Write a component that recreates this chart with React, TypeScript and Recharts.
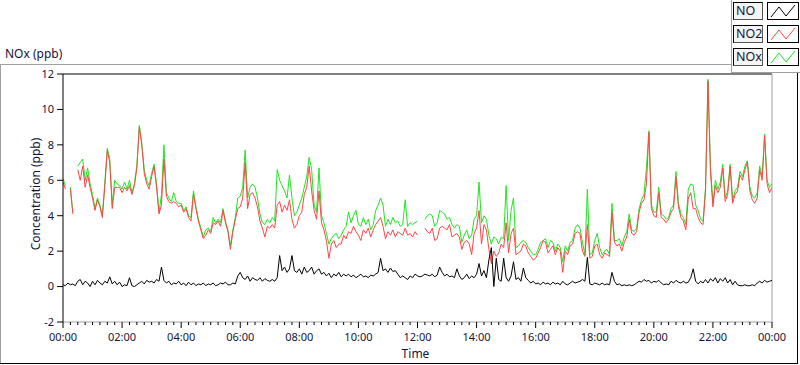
import React from 'react';
import { LineChart, Line, XAxis, YAxis, ReferenceLine, Legend } from 'recharts';

// 5-minute samples from 00:00 to 24:00 (289 points)
const STEP_MIN = 5;
const X_TICKS = [0, 120, 240, 360, 480, 600, 720, 840, 960, 1080, 1200, 1320, 1440];
const X_MINOR = Array.from({ length: 97 }, (_, k) => k * 15);
const Y_TICKS = [-2, 0, 2, 4, 6, 8, 10, 12];
const SERIES_NAMES = ['NO', 'NO2', 'NOx'];

const NO2: (number | null)[] = [
  5.9,5.5,null,5.5,4.1,null,6.6,6.0,6.8,5.6,
  6.3,5.6,5.0,4.3,4.9,4.5,3.9,5.7,7.7,7.0,
  4.4,5.6,5.6,5.6,5.3,5.6,5.4,5.7,5.2,5.7,
  6.7,9.0,8.0,6.4,5.8,5.5,6.2,6.8,5.6,4.1,
  4.6,7.2,5.1,4.8,4.7,4.8,4.7,4.5,4.6,4.2,
  4.4,3.9,3.7,5.2,4.4,3.7,3.2,2.7,2.9,3.2,
  3.0,3.6,3.5,3.7,3.4,4.3,3.6,3.1,2.1,3.1,
  3.8,4.4,4.5,5.0,7.0,4.4,5.2,5.3,5.0,4.5,
  3.7,3.3,2.8,3.4,3.3,3.5,3.3,4.6,4.8,4.2,
  4.6,4.3,4.9,3.8,3.3,3.5,4.0,4.2,5.2,5.6,
  6.8,5.4,4.3,3.8,5.4,3.6,3.2,2.6,1.6,2.4,
  2.6,2.2,2.4,2.4,2.9,2.7,3.1,3.0,3.4,3.1,
  2.9,2.6,3.2,3.0,3.3,2.8,3.2,3.5,3.7,3.9,
  3.4,2.7,3.1,2.9,3.2,2.8,3.1,3.0,2.9,3.3,
  2.9,3.0,2.8,3.1,2.9,null,null,3.3,3.1,3.0,
  3.3,2.6,2.7,3.3,3.4,3.3,3.2,3.5,2.8,2.9,
  3.0,2.8,2.1,2.5,2.6,2.4,1.8,3.0,3.3,4.3,
  2.4,3.5,3.2,2.1,1.3,2.0,1.7,1.9,2.4,2.2,
  3.6,1.9,3.0,3.3,1.8,1.9,2.0,2.4,2.3,1.9,
  1.7,1.5,1.6,1.9,2.2,2.6,2.5,1.9,2.1,2.3,
  1.8,2.2,2.0,0.8,2.0,1.8,2.3,2.4,3.0,3.1,
  3.0,2.0,1.7,3.5,1.6,1.7,2.3,2.4,1.8,1.6,
  1.9,1.8,1.7,4.2,2.5,2.3,2.4,2.0,2.5,2.8,
  3.8,3.0,2.9,3.1,4.2,4.7,4.9,5.8,8.7,4.4,
  4.0,3.9,5.3,3.9,3.8,3.6,3.8,4.2,4.4,6.2,
  4.5,3.9,3.7,3.2,5.0,5.3,4.4,4.4,3.9,3.6,
  3.5,5.4,11.6,6.5,4.5,5.7,5.3,5.6,6.7,4.8,
  5.2,6.8,4.7,5.2,5.4,6.3,6.0,6.6,7.0,5.4,
  4.9,4.7,5.0,6.6,6.0,8.5,5.8,5.3,5.6,
];

const NOX: (number | null)[] = [
  6.1,5.7,null,5.6,4.2,null,6.8,7.0,7.2,6.0,
  6.7,5.8,5.2,4.4,5.0,4.6,4.0,5.9,7.8,7.2,
  4.6,6.0,5.8,5.7,5.5,5.9,5.5,6.0,5.3,5.8,
  6.8,9.1,8.1,6.6,6.0,5.7,6.4,6.9,5.8,4.2,
  5.2,8.0,5.3,5.0,4.8,5.3,4.8,4.7,4.7,4.3,
  4.5,4.0,3.9,5.4,4.5,3.8,3.3,2.8,3.2,3.3,
  3.1,3.9,3.6,3.8,3.6,4.4,3.7,3.2,2.3,3.2,
  3.9,5.0,5.1,5.6,7.7,5.0,5.6,5.8,5.6,5.0,
  4.1,3.6,3.5,3.8,3.6,3.9,3.7,6.6,6.0,5.7,
  5.4,5.0,6.3,5.0,4.0,4.2,4.6,5.0,5.6,6.2,
  7.3,6.6,4.6,4.2,6.7,4.0,3.6,3.0,2.4,2.7,
  2.9,3.0,2.7,2.9,3.2,3.4,4.2,3.6,4.0,4.3,
  3.5,3.4,3.9,3.5,3.8,3.2,3.5,4.3,4.6,5.0,
  4.6,3.4,3.8,3.5,3.9,3.6,3.7,3.4,3.5,4.9,
  3.4,3.6,3.5,3.6,3.7,null,null,3.8,4.0,4.1,
  4.0,3.4,3.6,4.3,4.2,4.1,3.8,3.9,3.5,3.3,
  3.5,3.4,2.5,2.9,3.2,2.7,2.9,3.8,4.0,5.9,
  3.6,4.0,3.8,2.9,2.4,2.8,2.7,2.4,2.8,2.7,
  5.7,2.6,4.3,5.0,2.2,2.3,2.5,2.6,2.5,2.2,
  2.0,1.8,1.8,2.1,2.5,2.6,2.7,2.2,2.6,2.5,
  2.0,2.4,2.2,1.4,2.3,2.0,2.5,2.6,3.3,3.5,
  3.3,2.5,1.8,5.5,1.8,1.9,2.6,3.0,2.2,1.8,
  2.0,2.1,1.8,4.7,2.6,2.6,2.7,2.3,2.8,3.1,
  4.1,3.2,3.1,3.3,4.4,4.9,5.2,6.7,8.8,4.6,
  4.2,4.2,5.6,4.1,4.0,3.8,3.9,4.4,4.6,6.5,
  4.7,4.1,3.9,3.5,5.5,5.8,5.7,4.6,4.3,3.8,
  3.7,5.6,11.7,6.8,4.7,6.0,5.5,5.9,6.9,5.0,
  5.4,6.9,4.9,5.4,5.6,6.5,6.2,6.8,7.1,5.6,
  5.1,5.0,5.3,6.8,6.2,8.6,6.0,5.6,5.8,
];

const NO: (number | null)[] = [
  0.1,0.05,0.2,0.1,0.15,0.05,0.3,0.4,0.1,0.3,
  0.2,0.0,0.3,0.1,0.35,0.2,0.1,0.3,0.2,0.55,
  0.15,0.3,0.1,0.25,0.0,0.1,0.05,0.5,0.05,0.0,
  0.1,0.2,0.3,0.15,0.35,0.25,0.3,0.2,0.4,0.3,
  1.1,0.35,0.2,0.3,0.1,0.2,0.15,0.3,0.1,0.2,
  0.05,0.25,0.1,0.2,0.05,0.15,0.1,0.2,0.05,0.15,
  0.1,0.2,0.05,0.1,0.2,0.15,0.25,0.1,0.1,0.2,
  0.15,0.6,0.8,0.5,0.4,0.6,0.3,0.5,0.4,0.35,
  0.5,0.3,0.45,0.35,0.3,0.4,0.3,0.5,1.75,0.9,
  1.1,0.8,1.0,1.75,0.9,0.8,1.0,0.7,1.1,0.8,
  0.9,1.1,0.7,0.9,1.0,0.7,0.8,0.6,0.75,0.5,
  0.7,0.6,0.8,0.55,0.7,0.6,0.7,0.55,0.65,0.5,
  0.6,0.7,0.55,0.6,0.5,0.65,0.6,0.7,0.8,1.6,
  0.9,1.0,0.8,1.05,0.85,0.9,0.7,0.5,0.6,0.5,
  0.4,0.6,0.5,0.7,0.6,0.55,0.6,0.7,0.65,0.6,
  0.7,0.55,0.65,1.1,0.8,0.6,0.7,0.55,0.6,0.5,
  1.0,0.6,0.4,0.5,0.7,0.45,0.6,0.5,0.7,1.3,
  0.6,0.9,0.5,1.5,2.2,0.0,1.6,0.4,0.3,1.6,
  0.5,0.3,0.6,1.4,0.4,0.5,0.3,1.05,0.5,0.35,
  0.2,0.3,0.15,0.2,0.1,0.25,0.15,0.2,0.1,0.25,
  0.15,0.2,0.1,0.3,0.15,0.1,0.2,0.3,0.2,0.25,
  0.3,0.4,0.3,1.65,0.15,0.1,0.2,0.15,0.1,0.2,
  0.1,0.15,0.1,0.8,0.3,0.1,0.15,0.05,0.1,0.05,
  0.1,0.05,0.1,0.2,0.3,0.25,0.4,0.3,0.35,0.2,
  0.3,0.25,0.35,0.2,0.1,0.15,0.1,0.3,0.2,0.35,
  0.25,0.2,0.3,0.2,0.25,0.5,1.0,0.3,0.15,0.3,
  0.2,0.4,0.2,0.45,0.3,0.5,0.2,0.45,0.3,0.5,
  0.2,0.4,0.1,0.3,0.1,0.05,0.05,0.1,0.05,0.05,
  0.1,0.05,0.2,0.3,0.2,0.35,0.25,0.3,0.35,
];

const rows = NO.map((v, i) => ({ min: i * STEP_MIN, NO: v, NO2: NO2[i], NOx: NOX[i] }));

const FONT = '"Noto Sans", "Open Sans", sans-serif';
const TEXT = '#14143a';
const GRAY = '#a0a0a0';

const fmtTime = (m: number) => {
  const h = Math.floor(m / 60) % 24;
  const mm = m % 60;
  return `${String(h).padStart(2, '0')}:${String(mm).padStart(2, '0')}`;
};

const XTick = (props: any) => {
  const { x, y, payload } = props;
  const major = payload.value % 120 === 0;
  return (
    <g>
      <line x1={x} x2={x} y1={y} y2={y + (major ? 6 : 3)} stroke="#000" strokeWidth={1} />
      {major && (
        <text x={x} y={y + 19} textAnchor="middle" fontSize={11} fontFamily={FONT} fill={TEXT}>
          {fmtTime(payload.value)}
        </text>
      )}
    </g>
  );
};

const LegendBox = (props: any) => {
  const payload = [...(props.payload || [])].sort(
    (a: any, b: any) => SERIES_NAMES.indexOf(a.value) - SERIES_NAMES.indexOf(b.value)
  );
  return (
    <div style={{ position: 'relative', width: 69, height: 73, borderLeft: `1px solid ${GRAY}`, borderBottom: `1px solid ${GRAY}`, boxSizing: 'border-box', background: '#fff' }}>
      {payload.map((p: any, k: number) => (
        <div key={p.value} style={{ position: 'absolute', left: 1, top: 2 + k * 23, height: 18, width: 66 }}>
          <div style={{ position: 'absolute', left: 0, top: 0, width: 30, height: 18, boxSizing: 'border-box', borderTop: '1px solid #000', borderLeft: '1px solid #000', borderRight: '1px solid #555', borderBottom: '1px solid #555', background: '#f4f4f4', fontFamily: FONT, fontSize: 12.5, lineHeight: '16px', color: TEXT, paddingLeft: 2 }}>
            {p.value}
          </div>
          <div style={{ position: 'absolute', left: 34, top: 0, width: 32, height: 18, boxSizing: 'border-box', border: '1px solid #000', background: '#fff' }}>
            <svg width={30} height={16} style={{ display: 'block' }}>
              <polyline points="3,14 11,4 18,13 27,2" fill="none" stroke={p.color} strokeWidth={1} />
            </svg>
          </div>
        </div>
      ))}
    </div>
  );
};

const YLabel = (props: any) => {
  const vb = props.viewBox || { x: 0, y: 74, width: 63, height: 248 };
  const cx = vb.x + 39.5;
  const cy = vb.y + vb.height / 2 - 4;
  return (
    <text x={cx} y={cy} transform={`rotate(-90 ${cx} ${cy})`} textAnchor="middle" fontSize={12} fontFamily={FONT} fill={TEXT}>
      Concentration (ppb)
    </text>
  );
};

const XLabel = (props: any) => {
  const vb = props.viewBox || { x: 63, y: 322, width: 709, height: 43 };
  return (
    <text x={vb.x + vb.width / 2 - 2} y={vb.y + 36} textAnchor="middle" fontSize={12} fontFamily={FONT} fill={TEXT}>
      Time
    </text>
  );
};

export default function App() {
  return (
    <div style={{ position: 'absolute', left: 0, top: 0, width: 800, height: 365, background: '#fff', overflow: 'hidden' }}>
      <div style={{ position: 'absolute', left: 0, top: 64, width: 731, height: 1, background: GRAY }} />
      <div style={{ position: 'absolute', left: 0, top: 64, width: 1, height: 300, background: GRAY }} />
      <div style={{ position: 'absolute', left: 0, top: 363, width: 798, height: 1, background: '#000' }} />
      <div style={{ position: 'absolute', left: 797, top: 72, width: 1, height: 292, background: '#000' }} />
      <div style={{ position: 'absolute', left: 5, top: 46, fontFamily: FONT, fontSize: 12, lineHeight: '16px', color: TEXT, whiteSpace: 'nowrap' }}>
        NOx (ppb)
      </div>
      <LineChart width={800} height={365} data={rows} margin={{ top: 74, right: 28, bottom: 0, left: 0 }} style={{ fontFamily: FONT }}>
        <XAxis
          dataKey="min"
          type="number"
          domain={[0, 1440]}
          ticks={X_MINOR}
          interval={0}
          allowDataOverflow
          height={43}
          tickSize={0}
          tickMargin={0}
          tickLine={false}
          axisLine={{ stroke: GRAY }}
          tick={XTick}
          label={{ content: XLabel }}
        />
        <YAxis
          type="number"
          domain={[-2, 12]}
          ticks={Y_TICKS}
          interval={0}
          allowDataOverflow
          width={63}
          tickSize={6}
          tickMargin={3}
          axisLine={{ stroke: '#000' }}
          tickLine={{ stroke: '#000' }}
          tick={{ fontSize: 11, fontFamily: FONT, fill: TEXT }}
          label={{ content: YLabel }}
        />
        <ReferenceLine y={12} stroke="#000" />
        <ReferenceLine x={1440} stroke={GRAY} />
        <Legend
          layout="horizontal"
          verticalAlign="middle"
          align="center"
          content={LegendBox}
          wrapperStyle={{ position: 'absolute', left: 731, top: 0, width: 69, height: 73 }}
        />
        <Line dataKey="NOx" name="NOx" stroke="#1ee61e" strokeWidth={1} dot={false} isAnimationActive={false} connectNulls={false} />
        <Line dataKey="NO2" name="NO2" stroke="#ff4646" strokeWidth={1} dot={false} isAnimationActive={false} connectNulls={false} />
        <Line dataKey="NO" name="NO" stroke="#000000" strokeWidth={1} dot={false} isAnimationActive={false} connectNulls={false} />
      </LineChart>
    </div>
  );
}
